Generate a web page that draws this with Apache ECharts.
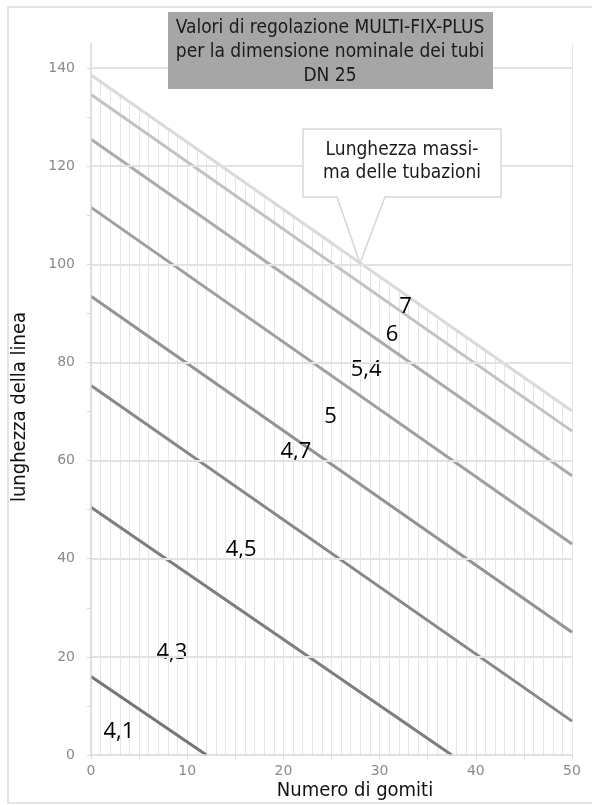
<!DOCTYPE html>
<html>
<head>
<meta charset="utf-8">
<script src="https://cdn.jsdelivr.net/npm/echarts@6/dist/echarts.min.js"></script>
<style>
html,body{margin:0;padding:0;background:#fff;}
#chart{width:592px;height:805px;}
</style>
</head>
<body>
<div id="chart"></div>
<script>
// ---- data ----
const xTickLabels = [0, 10, 20, 30, 40, 50];
const yTickLabels = [0, 20, 40, 60, 80, 100, 120, 140];
const yMinorTicks = [0, 10, 20, 30, 40, 50, 60, 70, 80, 90, 100, 110, 120, 130, 140];
const seriesNames = ['4,1', '4,3', '4,5', '4,7', '5', '5,4', '6', '7'];
const line41 = [[0, 16], [12, 0]];
const line43 = [[0, 50.5], [37.5, 0]];
const line45 = [[0, 75.3], [50, 6.9]];
const line47 = [[0, 93.5], [50, 25]];
const line5 = [[0, 111.6], [50, 43]];
const line54 = [[0, 125.5], [50, 56.9]];
const line6 = [[0, 134.6], [50, 66]];
const line7 = [[0, 138.6], [50, 70.1]];
const labelX = [2.9, 8.4, 15.6, 21.3, 24.9, 28.6, 31.3, 32.7];
const labelY = [4.8, 20.8, 41.8, 61.8, 68.9, 78.5, 85.6, 91.3];
const titleLines = ['Valori di regolazione MULTI-FIX-PLUS', 'per la dimensione nominale dei tubi', 'DN 25'];
const calloutLines = ['Lunghezza massi-', 'ma delle tubazioni'];

const lineData = [line41, line43, line45, line47, line5, line54, line6, line7];
const lineColors = ['#757575', '#7e7e7e', '#888888', '#939393', '#9f9f9f', '#ababab', '#c2c2c2', '#dadada'];

const narrow = "'Liberation Sans Narrow','DejaVu Sans Condensed',sans-serif";
const chart = echarts.init(document.getElementById('chart'), null, {renderer: 'canvas'});

const series = [];
// white cover above the top line (hides vertical hatching there)
series.push({
  type: 'line', data: line7, xAxisIndex: 0, yAxisIndex: 0, z: 1, silent: true,
  symbol: 'none', lineStyle: {width: 0, opacity: 0},
  areaStyle: {color: '#ffffff', opacity: 1, origin: 'end'}
});
// horizontal grid lines
series.push({
  type: 'line', data: [], z: 2, silent: true,
  markLine: {
    silent: true, symbol: ['none', 'none'], label: {show: false},
    lineStyle: {color: '#e2e2e2', width: 2, type: 'solid'},
    emphasis: {disabled: true},
    data: yTickLabels.filter(v => v > 0).map(v => ({yAxis: v}))
  }
});
lineData.forEach((d, i) => {
  series.push({
    name: seriesNames[i], type: 'line', data: d, z: 3, silent: true,
    symbol: 'none', lineStyle: {width: 3, color: lineColors[i]}
  });
});
series.push({
  type: 'scatter', z: 4, silent: true, symbol: 'circle', symbolSize: 1,
  itemStyle: {color: '#ffffff', opacity: 1},
  data: labelX.map((x, i) => ({value: [x, labelY[i]], name: seriesNames[i]})),
  label: {show: true, position: 'inside', formatter: '{b}', color: '#000', opacity: 1,
    textBorderWidth: 0, fontFamily: "'Open Sans',sans-serif", fontSize: 22}
});

const graphics = [
  {type: 'rect', z: 0, shape: {x: 8, y: 7, width: 620, height: 796},
    style: {fill: 'none', stroke: '#dcdcdc', lineWidth: 1.5}, silent: true},
  {type: 'rect', z: 100, shape: {x: 168, y: 12, width: 325, height: 77},
    style: {fill: '#a6a6a6'}, silent: true},
  {type: 'polygon', z: 100, shape: {points: [[303, 129], [501, 129], [501, 197], [385, 197], [360, 263], [337, 197], [303, 197]]},
    style: {fill: '#ffffff', stroke: '#d6d6d6', lineWidth: 1.5}, silent: true},
  {type: 'text', z: 101, x: 20, y: 407, rotation: Math.PI / 2,
    style: {text: 'lunghezza della linea', fill: '#111', font: '20px ' + narrow, textAlign: 'center', textVerticalAlign: 'middle'}},
  {type: 'text', z: 101, x: 355, y: 791,
    style: {text: 'Numero di gomiti', fill: '#111', font: '20px ' + narrow, textAlign: 'center', textVerticalAlign: 'middle'}}
];
titleLines.forEach((t, i) => graphics.push({type: 'text', z: 101, x: 330, y: 28 + i * 24,
  style: {text: t, fill: '#1a1a1a', font: '19px ' + narrow, textAlign: 'center', textVerticalAlign: 'middle'}}));
calloutLines.forEach((t, i) => graphics.push({type: 'text', z: 101, x: 402, y: 150 + i * 23,
  style: {text: t, fill: '#1a1a1a', font: '19px ' + narrow, textAlign: 'center', textVerticalAlign: 'middle'}}));

const option = {
  animation: false,
  backgroundColor: '#fff',
  grid: {left: 91, right: 20, top: 43.5, bottom: 50, containLabel: false},
  xAxis: [
    {type: 'value', min: 0, max: 50, interval: 5, z: 0,
      axisLine: {show: false}, axisTick: {show: false}, axisLabel: {show: false},
      splitLine: {show: true, lineStyle: {color: '#e6e6e6', width: 1}},
      minorTick: {show: false, splitNumber: 5},
      minorSplitLine: {show: true, lineStyle: {color: '#e6e6e6', width: 1}}},
    {type: 'value', min: 0, max: 50, interval: 5, z: 10, position: 'bottom',
      axisLine: {show: true, lineStyle: {color: '#d9d9d9', width: 1.5}},
      axisTick: {show: true, length: 4, lineStyle: {color: '#d9d9d9'}},
      axisLabel: {show: true, margin: 9, color: '#8a8a8a', fontFamily: "'DejaVu Sans',sans-serif", fontSize: 14,
        formatter: v => (xTickLabels.indexOf(v) >= 0 ? String(v) : '')},
      splitLine: {show: false}}
  ],
  yAxis: [
    {type: 'value', min: 0, max: 145, interval: 10, z: 10,
      axisLine: {show: true, lineStyle: {color: '#d9d9d9', width: 1.5}},
      axisTick: {show: true, length: 4, lineStyle: {color: '#d9d9d9'}, customValues: yMinorTicks},
      axisLabel: {show: true, margin: 16, color: '#8a8a8a', fontFamily: "'DejaVu Sans',sans-serif", fontSize: 14,
        customValues: yTickLabels,
        formatter: v => (yTickLabels.indexOf(v) >= 0 ? String(v) : '')},
      splitLine: {show: false}}
  ],
  series: series,
  graphic: graphics
};
chart.setOption(option);
</script>
</body>
</html>
